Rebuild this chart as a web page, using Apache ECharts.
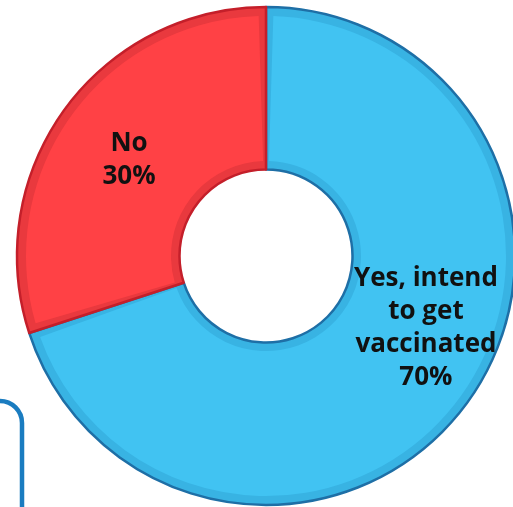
<!DOCTYPE html>
<html>
<head>
<meta charset="utf-8">
<script src="https://cdn.jsdelivr.net/npm/echarts@6/dist/echarts.min.js"></script>
<style>
html,body{margin:0;padding:0;background:#fff;}
#chart{width:513px;height:507px;}
</style>
</head>
<body>
<div id="chart"></div>
<script>
var categories = ['Yes, intend\nto get\nvaccinated', 'No'];
var values = [70, 30];
var percentLabels = ['70%', '30%'];

var fillColors = ['#41C3F2', '#FF4145'];
var bandColors = ['#38B3E3', '#E9393E'];
var edgeColors = ['#1E6FA6', '#C41F2A'];
var labelOffsets = [[22, -28], [1, 4]];

var chart = echarts.init(document.getElementById('chart'), null, {renderer: 'canvas'});

var baseData = categories.map(function (c, i) {
  return {name: c, value: values[i], itemStyle: {color: bandColors[i], borderColor: edgeColors[i]}};
});
var fillData = categories.map(function (c, i) {
  return {
    name: c, value: values[i],
    itemStyle: {color: fillColors[i]},
    label: {offset: labelOffsets[i], formatter: c + '\n' + percentLabels[i]}
  };
});

chart.setOption({
  animation: false,
  graphic: [{
    type: 'rect',
    shape: {x: -100, y: 401, width: 122, height: 200, r: 22},
    style: {fill: 'none', stroke: '#1A7CC0', lineWidth: 4.5},
    z: -1
  }],
  series: [{
    type: 'pie',
    center: [266, 256],
    radius: [86.5, 249],
    startAngle: 90,
    clockwise: true,
    silent: true,
    label: {show: false},
    labelLine: {show: false},
    itemStyle: {borderWidth: 2.5},
    data: baseData
  }, {
    type: 'pie',
    center: [266, 256],
    radius: [95, 240],
    startAngle: 90,
    clockwise: true,
    padAngle: 3.5,
    silent: true,
    labelLine: {show: false},
    label: {
      show: true,
      position: 'inside',
      color: '#111',
      fontFamily: 'Open Sans',
      fontWeight: 'bold',
      fontSize: 26,
      lineHeight: 33,
      align: 'center'
    },
    data: fillData
  }]
});
</script>
</body>
</html>
